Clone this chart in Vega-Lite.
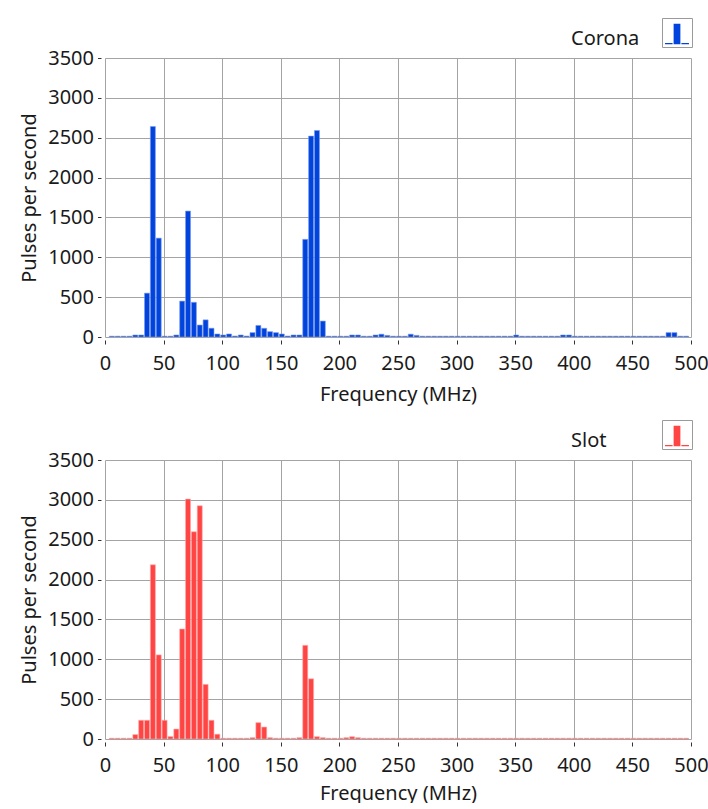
{
  "$schema": "https://vega.github.io/schema/vega-lite/v6.json",
  "padding": {"left": 19, "top": 17, "right": 0, "bottom": 0},
  "background": "white",
  "config": {
    "font": "Noto Sans",
    "view": {"stroke": null},
    "axis": {
      "labelFontSize": 20, "titleFontSize": 20, "titleFontWeight": "normal",
      "labelColor": "#1a1a1a", "titleColor": "#1a1a1a",
      "gridColor": "#a4a4a4", "gridWidth": 1, "domain": false,
      "tickColor": "#333", "tickWidth": 1
    },
    "title": {"fontSize": 20, "fontWeight": "normal", "color": "#1a1a1a"},
    "concat": {"spacing": 15}
  },
  "datasets": {
    "corona": [
      {"freq": 5, "pps": 10}, {"freq": 10, "pps": 10}, {"freq": 15, "pps": 10}, {"freq": 20, "pps": 10},
      {"freq": 25, "pps": 25}, {"freq": 30, "pps": 25}, {"freq": 35, "pps": 550}, {"freq": 40, "pps": 2640},
      {"freq": 45, "pps": 1240}, {"freq": 50, "pps": 10}, {"freq": 55, "pps": 10}, {"freq": 60, "pps": 25},
      {"freq": 65, "pps": 450}, {"freq": 70, "pps": 1580}, {"freq": 75, "pps": 435}, {"freq": 80, "pps": 150},
      {"freq": 85, "pps": 215}, {"freq": 90, "pps": 110}, {"freq": 95, "pps": 38}, {"freq": 100, "pps": 25},
      {"freq": 105, "pps": 38}, {"freq": 110, "pps": 12}, {"freq": 115, "pps": 25}, {"freq": 120, "pps": 12},
      {"freq": 125, "pps": 55}, {"freq": 130, "pps": 145}, {"freq": 135, "pps": 109}, {"freq": 140, "pps": 67},
      {"freq": 145, "pps": 55}, {"freq": 150, "pps": 38}, {"freq": 155, "pps": 12}, {"freq": 160, "pps": 25},
      {"freq": 165, "pps": 25}, {"freq": 170, "pps": 1225}, {"freq": 175, "pps": 2520}, {"freq": 180, "pps": 2590},
      {"freq": 185, "pps": 200}, {"freq": 190, "pps": 10}, {"freq": 195, "pps": 10}, {"freq": 200, "pps": 10},
      {"freq": 205, "pps": 10}, {"freq": 210, "pps": 25}, {"freq": 215, "pps": 25}, {"freq": 220, "pps": 10},
      {"freq": 225, "pps": 10}, {"freq": 230, "pps": 25}, {"freq": 235, "pps": 35}, {"freq": 240, "pps": 20},
      {"freq": 245, "pps": 10}, {"freq": 250, "pps": 10}, {"freq": 255, "pps": 10}, {"freq": 260, "pps": 35},
      {"freq": 265, "pps": 20}, {"freq": 270, "pps": 10}, {"freq": 275, "pps": 10}, {"freq": 280, "pps": 10},
      {"freq": 285, "pps": 10}, {"freq": 290, "pps": 10}, {"freq": 295, "pps": 10}, {"freq": 300, "pps": 10},
      {"freq": 305, "pps": 10}, {"freq": 310, "pps": 10}, {"freq": 315, "pps": 10}, {"freq": 320, "pps": 10},
      {"freq": 325, "pps": 10}, {"freq": 330, "pps": 10}, {"freq": 335, "pps": 10}, {"freq": 340, "pps": 10},
      {"freq": 345, "pps": 10}, {"freq": 350, "pps": 25}, {"freq": 355, "pps": 10}, {"freq": 360, "pps": 10},
      {"freq": 365, "pps": 10}, {"freq": 370, "pps": 10}, {"freq": 375, "pps": 10}, {"freq": 380, "pps": 10},
      {"freq": 385, "pps": 10}, {"freq": 390, "pps": 25}, {"freq": 395, "pps": 25}, {"freq": 400, "pps": 10},
      {"freq": 405, "pps": 10}, {"freq": 410, "pps": 10}, {"freq": 415, "pps": 10}, {"freq": 420, "pps": 10},
      {"freq": 425, "pps": 10}, {"freq": 430, "pps": 10}, {"freq": 435, "pps": 10}, {"freq": 440, "pps": 10},
      {"freq": 445, "pps": 10}, {"freq": 450, "pps": 10}, {"freq": 455, "pps": 10}, {"freq": 460, "pps": 10},
      {"freq": 465, "pps": 10}, {"freq": 470, "pps": 10}, {"freq": 475, "pps": 10}, {"freq": 480, "pps": 55},
      {"freq": 485, "pps": 55}, {"freq": 490, "pps": 10}, {"freq": 495, "pps": 10}
    ],
    "slot": [
      {"freq": 5, "pps": 10}, {"freq": 10, "pps": 10}, {"freq": 15, "pps": 10}, {"freq": 20, "pps": 10},
      {"freq": 25, "pps": 55}, {"freq": 30, "pps": 235}, {"freq": 35, "pps": 235}, {"freq": 40, "pps": 2185},
      {"freq": 45, "pps": 1055}, {"freq": 50, "pps": 235}, {"freq": 55, "pps": 30}, {"freq": 60, "pps": 125},
      {"freq": 65, "pps": 1380}, {"freq": 70, "pps": 3010}, {"freq": 75, "pps": 2600}, {"freq": 80, "pps": 2925},
      {"freq": 85, "pps": 685}, {"freq": 90, "pps": 235}, {"freq": 95, "pps": 60}, {"freq": 100, "pps": 10},
      {"freq": 105, "pps": 10}, {"freq": 110, "pps": 10}, {"freq": 115, "pps": 10}, {"freq": 120, "pps": 10},
      {"freq": 125, "pps": 17}, {"freq": 130, "pps": 205}, {"freq": 135, "pps": 150}, {"freq": 140, "pps": 17},
      {"freq": 145, "pps": 10}, {"freq": 150, "pps": 10}, {"freq": 155, "pps": 10}, {"freq": 160, "pps": 10},
      {"freq": 165, "pps": 17}, {"freq": 170, "pps": 1175}, {"freq": 175, "pps": 755}, {"freq": 180, "pps": 29},
      {"freq": 185, "pps": 17}, {"freq": 190, "pps": 10}, {"freq": 195, "pps": 10}, {"freq": 200, "pps": 10},
      {"freq": 205, "pps": 17}, {"freq": 210, "pps": 29}, {"freq": 215, "pps": 17}, {"freq": 220, "pps": 10},
      {"freq": 225, "pps": 10}, {"freq": 230, "pps": 10}, {"freq": 235, "pps": 10}, {"freq": 240, "pps": 10},
      {"freq": 245, "pps": 10}, {"freq": 250, "pps": 10}, {"freq": 255, "pps": 10}, {"freq": 260, "pps": 10},
      {"freq": 265, "pps": 10}, {"freq": 270, "pps": 10}, {"freq": 275, "pps": 10}, {"freq": 280, "pps": 10},
      {"freq": 285, "pps": 10}, {"freq": 290, "pps": 10}, {"freq": 295, "pps": 10}, {"freq": 300, "pps": 10},
      {"freq": 305, "pps": 10}, {"freq": 310, "pps": 10}, {"freq": 315, "pps": 10}, {"freq": 320, "pps": 10},
      {"freq": 325, "pps": 10}, {"freq": 330, "pps": 10}, {"freq": 335, "pps": 10}, {"freq": 340, "pps": 10},
      {"freq": 345, "pps": 10}, {"freq": 350, "pps": 10}, {"freq": 355, "pps": 10}, {"freq": 360, "pps": 10},
      {"freq": 365, "pps": 10}, {"freq": 370, "pps": 10}, {"freq": 375, "pps": 10}, {"freq": 380, "pps": 10},
      {"freq": 385, "pps": 10}, {"freq": 390, "pps": 10}, {"freq": 395, "pps": 10}, {"freq": 400, "pps": 10},
      {"freq": 405, "pps": 10}, {"freq": 410, "pps": 10}, {"freq": 415, "pps": 10}, {"freq": 420, "pps": 10},
      {"freq": 425, "pps": 10}, {"freq": 430, "pps": 10}, {"freq": 435, "pps": 10}, {"freq": 440, "pps": 10},
      {"freq": 445, "pps": 10}, {"freq": 450, "pps": 10}, {"freq": 455, "pps": 10}, {"freq": 460, "pps": 10},
      {"freq": 465, "pps": 10}, {"freq": 470, "pps": 10}, {"freq": 475, "pps": 10}, {"freq": 480, "pps": 10},
      {"freq": 485, "pps": 10}, {"freq": 490, "pps": 10}, {"freq": 495, "pps": 10}
    ]
  },
  "resolve": {"scale": {"fill": "independent"}, "legend": {"fill": "independent"}},
  "vconcat": [
    {
      "data": {"name": "corona"},
      "width": 586, "height": 279,
      "title": {"text": "Corona", "anchor": "start", "frame": "group", "dx": 466, "dy": 47, "baseline": "alphabetic", "offset": 0},
      "mark": {"type": "bar", "size": 5, "xOffset": 1, "stroke": "#7b98ec", "strokeWidth": 0.6, "clip": true},
      "encoding": {
        "x": {"field": "freq", "type": "quantitative", "title": "Frequency (MHz)",
              "scale": {"domain": [0, 500], "nice": false, "padding": 0},
              "axis": {"values": [0, 50, 100, 150, 200, 250, 300, 350, 400, 450, 500], "offset": 3, "tickSize": 4, "labelPadding": 9, "titlePadding": 11, "labelFlush": false}},
        "y": {"field": "pps", "type": "quantitative", "title": "Pulses per second",
              "scale": {"domain": [0, 3500], "nice": false},
              "axis": {"values": [0, 500, 1000, 1500, 2000, 2500, 3000, 3500], "format": "d", "offset": 4, "tickSize": 3.5, "labelPadding": 4, "titlePadding": 8}},
        "fill": {"datum": "Corona", "type": "nominal",
                 "scale": {"domain": ["Corona"], "range": ["#0044dd"]},
                 "legend": {"orient": "none", "legendX": 557, "legendY": -40, "title": null,
                            "labelExpr": "''", "labelOffset": 0, "labelFontSize": 1,
                            "symbolType": "M-0.26,-0.72H0.26V0.86H-0.26Z M-0.92,0.76H-0.34V0.86H-0.92Z M0.34,0.76H0.92V0.86H0.34Z",
                            "symbolSize": 676, "symbolStrokeWidth": 0, "strokeColor": "#9a9a9a", "padding": 2}}
      }
    },
    {
      "data": {"name": "slot"},
      "width": 586, "height": 279,
      "title": {"text": "Slot", "anchor": "start", "frame": "group", "dx": 466, "dy": 47, "baseline": "alphabetic", "offset": 0},
      "mark": {"type": "bar", "size": 5, "xOffset": 1, "stroke": "#ffaaaa", "strokeWidth": 0.6, "clip": true},
      "encoding": {
        "x": {"field": "freq", "type": "quantitative", "title": "Frequency (MHz)",
              "scale": {"domain": [0, 500], "nice": false, "padding": 0},
              "axis": {"values": [0, 50, 100, 150, 200, 250, 300, 350, 400, 450, 500], "offset": 3, "tickSize": 4, "labelPadding": 9, "titlePadding": 8, "labelFlush": false}},
        "y": {"field": "pps", "type": "quantitative", "title": "Pulses per second",
              "scale": {"domain": [0, 3500], "nice": false},
              "axis": {"values": [0, 500, 1000, 1500, 2000, 2500, 3000, 3500], "format": "d", "offset": 4, "tickSize": 3.5, "labelPadding": 4, "titlePadding": 8}},
        "fill": {"datum": "Slot", "type": "nominal",
                 "scale": {"domain": ["Slot"], "range": ["#ff4444"]},
                 "legend": {"orient": "none", "legendX": 557, "legendY": -40, "title": null,
                            "labelExpr": "''", "labelOffset": 0, "labelFontSize": 1,
                            "symbolType": "M-0.26,-0.72H0.26V0.86H-0.26Z M-0.92,0.76H-0.34V0.86H-0.92Z M0.34,0.76H0.92V0.86H0.34Z",
                            "symbolSize": 676, "symbolStrokeWidth": 0, "strokeColor": "#9a9a9a", "padding": 2}}
      }
    }
  ]
}
